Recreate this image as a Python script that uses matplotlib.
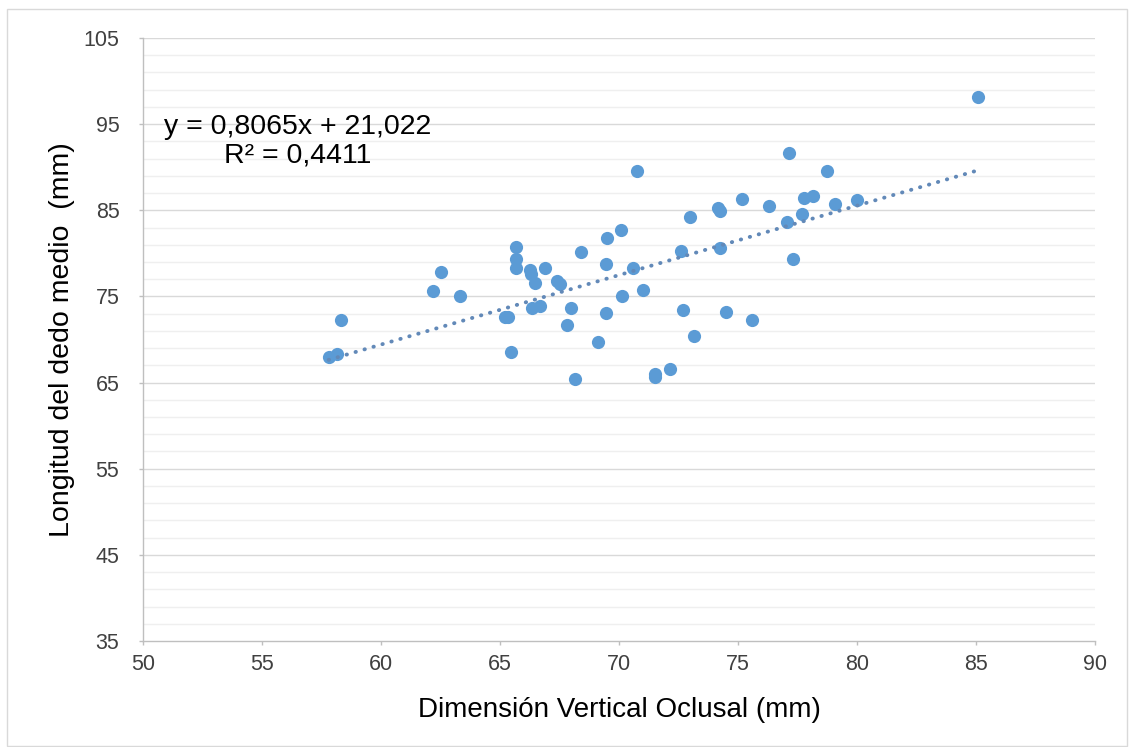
import numpy as np
import matplotlib
matplotlib.use("Agg")
import matplotlib.pyplot as plt
from matplotlib.patches import Rectangle

plt.rcParams['font.family'] = ['Liberation Sans', 'DejaVu Sans']

# data
dvo = [57.8, 58.15, 58.3, 62.2, 62.5, 63.3, 65.2, 65.35, 65.46, 65.67,
       65.67, 65.67, 66.26, 66.3, 66.47, 66.35, 66.7, 66.9, 67.4, 67.5,
       67.8, 68.0, 68.15, 68.4, 69.1, 69.45, 69.45, 69.5, 70.1, 70.13,
       70.6, 70.76, 71.0, 71.5, 71.5, 72.14, 72.6, 72.7, 73.0, 73.15,
       74.16, 74.24, 74.24, 74.5, 75.17, 75.6, 76.3, 77.06, 77.14, 77.3,
       77.7, 77.77, 78.15, 78.74, 79.07, 80.0, 85.08]
dedo = [68.0, 68.3, 72.3, 75.6, 77.8, 75.05, 72.6, 72.6, 68.55, 80.7,
        79.35, 78.3, 78.07, 77.6, 76.6, 73.66, 73.9, 78.3, 76.8, 76.4,
        71.7, 73.66, 65.4, 80.1, 69.7, 73.1, 78.8, 81.8, 82.7, 75.05,
        78.3, 89.56, 75.75, 66.0, 65.6, 66.6, 80.3, 73.4, 84.2, 70.4,
        85.27, 84.9, 80.6, 73.2, 86.3, 72.3, 85.5, 83.6, 91.65, 79.35,
        84.57, 86.4, 86.66, 89.56, 85.7, 86.2, 98.15]
slope, intercept = 0.8065, 21.022
eq_text = "y = 0,8065x + 21,022\nR² = 0,4411"
xticks = [50, 55, 60, 65, 70, 75, 80, 85, 90]
yticks = [35, 45, 55, 65, 75, 85, 95, 105]

blue = '#5b9bd5'

fig = plt.figure(figsize=(11.39, 7.47), dpi=100)
ax = fig.add_axes([143 / 1139, 1 - 641 / 747, 952 / 1139, 603 / 747])

# light minor gridlines every 2, darker major ones every 10
for yv in np.arange(37, 105, 2):
    if yv not in yticks:
        ax.axhline(yv, color='#efefef', lw=1, zorder=0)
for yv in yticks[1:]:
    ax.axhline(yv, color='#d9d9d9', lw=1, zorder=0)

ax.plot(dvo, dedo, 'o', color=blue, markersize=9.5, markeredgewidth=0, zorder=3)

xt = np.array([min(dvo), max(dvo)])
ax.plot(xt, slope * xt + intercept, color='#6289b8', lw=2.8,
        linestyle=(0, (0.1, 2.3)), dash_capstyle='round', zorder=4)

ax.text(0.162, 0.829, eq_text, transform=ax.transAxes, ha='center', va='center',
        fontsize=20.5, linespacing=1.15, color='#000000', zorder=5)

ax.set_xlim(50, 90)
ax.set_ylim(35, 105)
ax.set_xticks(xticks)
ax.set_yticks(yticks)
ax.tick_params(axis='both', labelsize=15.5, colors='#bfbfbf', labelcolor='#404040',
               length=3, width=1, direction='out')
ax.tick_params(axis='x', pad=6)
ax.tick_params(axis='y', pad=14)

for s in ['top', 'right']:
    ax.spines[s].set_visible(False)
for s in ['left', 'bottom']:
    ax.spines[s].set_color('#bfbfbf')
    ax.spines[s].set_linewidth(1)

ax.set_xlabel('Dimensión Vertical Oclusal (mm)', fontsize=20, labelpad=16, color='#000000')
ax.set_ylabel('Longitud del dedo medio  (mm)', fontsize=20.5, labelpad=6, color='#000000')

fig.patches.append(Rectangle((7 / 1139, 1 / 747), 1120 / 1139, 737 / 747,
                             transform=fig.transFigure, fill=False,
                             edgecolor='#d9d9d9', lw=1))

fig.savefig('out.png', dpi=100)
